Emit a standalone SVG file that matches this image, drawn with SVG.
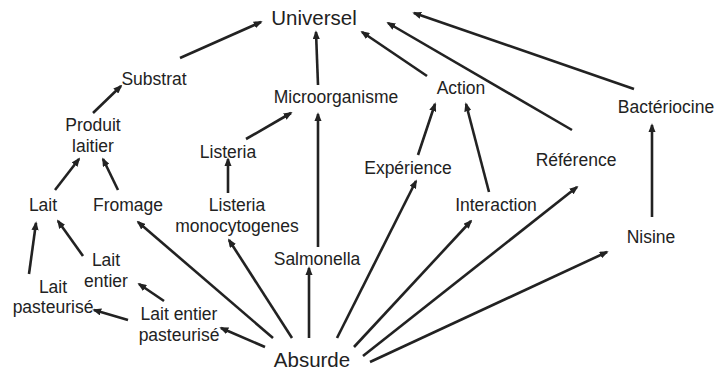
<svg xmlns="http://www.w3.org/2000/svg" width="715" height="374" viewBox="0 0 715 374">
<defs>
<marker id="ah" viewBox="0 0 10 8" markerUnits="userSpaceOnUse" markerWidth="9" markerHeight="7.2" refX="8" refY="4" orient="auto">
<path d="M0,0 L10,4 L0,8 z" fill="#222"/>
</marker>
<style>
text{font-family:"Liberation Sans",Arial,sans-serif;font-size:17.5px;fill:#222;text-anchor:middle}
.big{font-size:20.5px}
.c line{stroke:#222;stroke-width:2.6;marker-end:url(#ah)}
</style>
</defs>
<rect width="715" height="374" fill="#fff"/>
<g class="c" id="connectors">
<line x1="180" y1="58" x2="261" y2="22"/>
<line x1="318" y1="85" x2="316" y2="32"/>
<line x1="427" y1="76" x2="362" y2="32"/>
<line x1="572" y1="130" x2="388" y2="23"/>
<line x1="634" y1="89" x2="414" y2="13"/>
<line x1="93" y1="113" x2="121" y2="86"/>
<line x1="246" y1="139" x2="291" y2="113"/>
<line x1="318" y1="247" x2="318" y2="114"/>
<line x1="418" y1="155" x2="435" y2="104"/>
<line x1="489" y1="192" x2="466" y2="104"/>
<line x1="652" y1="217" x2="652" y2="125"/>
<line x1="55" y1="190" x2="79" y2="159"/>
<line x1="118" y1="190" x2="103" y2="159"/>
<line x1="228" y1="193" x2="228" y2="159"/>
<line x1="29" y1="274" x2="36" y2="223"/>
<line x1="83" y1="256" x2="58" y2="221"/>
<line x1="164" y1="301" x2="139" y2="284"/>
<line x1="128" y1="320" x2="94" y2="310"/>
<line x1="265" y1="347" x2="221" y2="328"/>
<line x1="273" y1="338" x2="138" y2="222"/>
<line x1="292" y1="338" x2="229" y2="240"/>
<line x1="309" y1="338" x2="309" y2="268"/>
<line x1="337" y1="338" x2="416" y2="181"/>
<line x1="354" y1="347" x2="471" y2="221"/>
<line x1="363" y1="356" x2="577" y2="187"/>
<line x1="370" y1="362" x2="607" y2="252"/>
</g>
<g id="universel"><text class="big" x="314" y="25">Universel</text></g>
<g id="substrat"><text x="154" y="85">Substrat</text></g>
<g id="microorganisme"><text x="336" y="103">Microorganisme</text></g>
<g id="action"><text x="461" y="94">Action</text></g>
<g id="bacteriocine"><text x="666" y="113">Bactériocine</text></g>
<g id="produit-laitier"><text x="93" y="131">Produit</text><text x="93" y="152">laitier</text></g>
<g id="listeria"><text x="228" y="158">Listeria</text></g>
<g id="experience"><text x="408" y="174">Expérience</text></g>
<g id="reference"><text x="576" y="166">Référence</text></g>
<g id="lait"><text x="43" y="211">Lait</text></g>
<g id="fromage"><text x="128" y="211">Fromage</text></g>
<g id="listeria-monocytogenes"><text x="237" y="211">Listeria</text><text x="237" y="232">monocytogenes</text></g>
<g id="interaction"><text x="496" y="211">Interaction</text></g>
<g id="salmonella"><text x="317" y="265">Salmonella</text></g>
<g id="nisine"><text x="651" y="243">Nisine</text></g>
<g id="lait-entier"><text x="106" y="266">Lait</text><text x="106" y="287">entier</text></g>
<g id="lait-pasteurise"><text x="53" y="293">Lait</text><text x="53" y="313">pasteurisé</text></g>
<g id="lait-entier-pasteurise"><text x="179" y="320">Lait entier</text><text x="179" y="341">pasteurisé</text></g>
<g id="absurde"><text class="big" x="312" y="367">Absurde</text></g>
</svg>
